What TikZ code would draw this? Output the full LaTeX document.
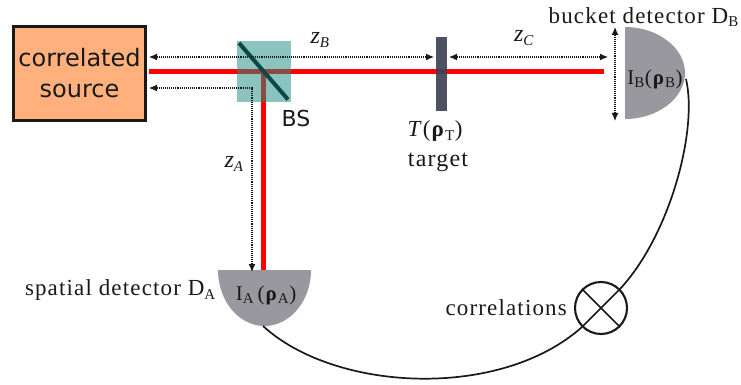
\documentclass[tikz,border=0pt]{standalone}
\usepackage{fontspec}
\setmainfont[LetterSpace=5]{Liberation Serif}
\setsansfont{DejaVu Sans}
\usetikzlibrary{arrows.meta}
\definecolor{srcfill}{RGB}{255,176,124}
\definecolor{bsfill}{RGB}{36,143,132}
\definecolor{bsline}{RGB}{8,72,72}
\definecolor{beamred}{RGB}{255,0,0}
\definecolor{tgt}{RGB}{62,66,84}
\definecolor{det}{RGB}{152,152,158}
\definecolor{ink}{RGB}{25,25,25}
\tikzset{
  beam/.style={draw=beamred,line width=5pt},
  dist/.style={densely dotted,line width=1.1pt,draw=ink},
  tipboth/.style={{Latex[length=8pt,width=7pt]}-{Latex[length=8pt,width=7pt]}},
  wire/.style={line width=1.7pt,draw=ink},
  sanslab/.style={inner sep=0pt,text=ink,font=\sffamily\fontsize{24}{31}\selectfont,align=center},
  dlab/.style={inner sep=0pt,text=ink,font=\fontsize{23}{26}\selectfont},
  inlab/.style={inner sep=0pt,text=ink,font=\fontsize{21}{24}\selectfont},
  zlab/.style={inner sep=0pt,text=ink,font=\itshape\fontsize{24}{26}\selectfont},
}
\newcommand{\sbs}[1]{\textsubscript{\fontsize{15}{15}\selectfont #1}}
\begin{document}
\begin{tikzpicture}[x=1pt,y=-1pt]
\useasboundingbox (0,0) rectangle (741,385);
% beams
\coordinate (srcout) at (149,71.5);
\coordinate (bend) at (263.5,69);
\coordinate (bbeamend) at (604,71.5);
\coordinate (abeamend) at (263.5,271);
\draw[beam] (srcout) -- (bbeamend);
\draw[beam] (bend) -- (abeamend);
% source
\node[draw=ink,line width=2.6pt,fill=srcfill,minimum width=132pt,minimum height=94pt,inner sep=0pt,sanslab] (src) at (79.5,73.5) {correlated\\source};
% beam splitter
\node[fill=bsfill,fill opacity=.53,minimum width=54pt,minimum height=61pt,inner sep=0pt] (bs) at (264,71.5) {};
\coordinate (bsa) at (239,43);
\coordinate (bsb) at (288,99.5);
\draw[bsline,line width=4pt] (bsa) -- (bsb);
\node[inner sep=0pt,text=ink,font=\sffamily\fontsize{22}{24}\selectfont] (bslab) at (296,118) {BS};
% target
\node[fill=tgt,fill opacity=.92,minimum width=11pt,minimum height=74pt,inner sep=0pt] (target) at (441.5,74) {};
\node[inner sep=0pt,text=ink,font=\fontsize{23}{26}\selectfont] (tlab) at (435,131) {\textit{T}(\textbf{ρ}\sbs{T})};
\node[inner sep=0pt,text=ink,font=\fontsize{24}{26}\selectfont] (tname) at (438,162) {target};
% detectors
\fill[det] (625,27) .. controls (658,27) and (685,48) .. (685,73) .. controls (685,98) and (658,119) .. (625,119) -- cycle;
\coordinate (bout) at (686,79);
\node[inner sep=0pt,text=ink,font=\fontsize{21}{24}\selectfont] (blab) at (655,79) {I\sbs{B}(\textbf{ρ}\sbs{B})};
\fill[det] (218,270) .. controls (218,301) and (239,326) .. (264.5,326) .. controls (290,326) and (311,301) .. (311,270) -- cycle;
\coordinate (aout) at (263,326);
\node[inner sep=0pt,text=ink,font=\fontsize{21}{24}\selectfont] (alab) at (266,295) {I\sbs{A}\,(\textbf{ρ}\sbs{A})};
\node[dlab,anchor=east] (aname) at (216,290) {spatial detector D\sbs{A}};
\node[dlab,anchor=east] (bname) at (739,17) {bucket detector D\sbs{B}};
% distances
\coordinate (zbl) at (149,57);
\coordinate (zbr) at (434,57);
\coordinate (zcl) at (449,57);
\coordinate (zcr) at (608,57);
\coordinate (hl) at (615,27);
\coordinate (hr) at (615,121);
\coordinate (zal) at (149,88);
\coordinate (zac) at (252,88);
\coordinate (zab) at (252,272);
\draw[dist,tipboth] (zbl) -- (zbr);
\draw[dist,tipboth] (zcl) -- (zcr);
\draw[dist,tipboth] (hl) -- (hr);
\draw[dist,tipboth] (zal) -- (zac) -- (zab);
\node[zlab] (zb) at (320,40) {z\sbs{B}};
\node[zlab] (zc) at (524,38) {z\sbs{C}};
\node[zlab] (za) at (234,164) {z\sbs{A}};
% correlator
\node[circle,draw=ink,line width=2.1pt,minimum size=52pt,inner sep=0pt] (corr) at (601,308) {};
\draw[wire] (corr.135) -- (corr.-45);
\draw[wire] (corr.45) -- (corr.225);
\draw[wire] (aout) .. controls (335,392) and (500,400) .. (corr.225);
\draw[wire] (corr.45) .. controls (670,235) and (698,130) .. (bout);
\node[dlab,anchor=east] (corrlab) at (567,308) {correlations};
\end{tikzpicture}
\end{document}
